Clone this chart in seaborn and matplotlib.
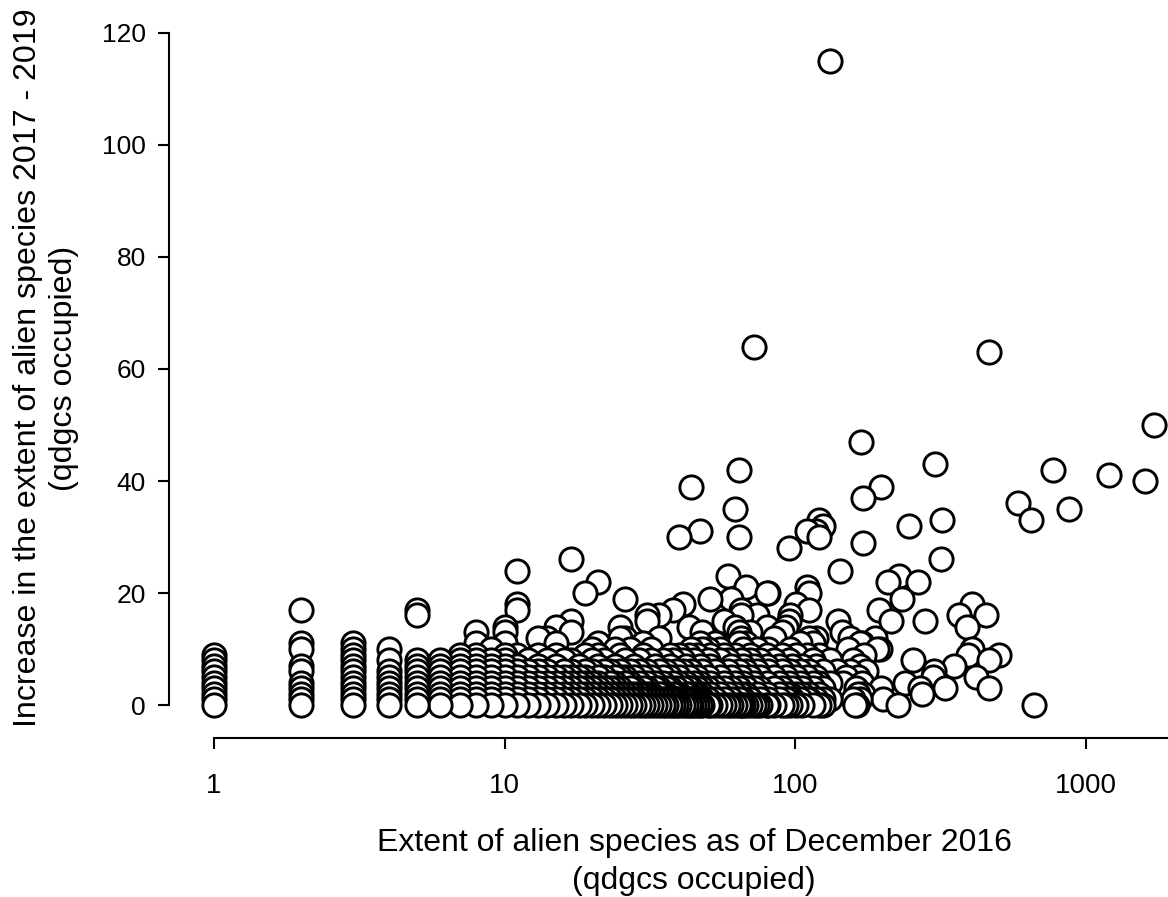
import pandas as pd
import matplotlib
matplotlib.use("Agg")
import matplotlib.pyplot as plt
import seaborn as sns

# Integer extents (qdgcs) with their stacks of observed increases
extent_a = [1, 2, 3, 4, 5, 6, 7, 8, 9, 10, 11, 12, 13, 14, 15, 16, 17, 18, 19, 20]
increase_a = [
    [0,1,2,3,4,5,6,7,8,9],
    [0,1,2,3,4,6,7,10,11,17],
    [0,1,2,3,4,5,6,7,8,9,10,11],
    [0,1,2,3,4,5,6,8,10],
    [0,1,2,3,4,5,6,7,8,16,17],
    [0,1,2,3,4,5,6,7,8],
    [0,1,2,3,4,5,6,7,8,9],
    [0,1,2,3,4,5,6,7,8,9,11,13],
    [0,1,2,3,4,5,6,7,8,10],
    [0,1,2,3,4,5,6,7,8,9,11,13,14],
    [0,1,2,3,4,5,6,7,9,17,18,24],
    [0,1,2,3,4,5,6,8],
    [0,1,2,3,4,5,6,7,9,12],
    [0,1,2,3,4,5,6,8,12],
    [0,1,2,3,4,5,7,9,11,14],
    [0,1,2,3,4,5,6,8],
    [0,1,2,3,4,5,6,8,13,15,26],
    [0,1,2,3,4,5,7],
    [0,1,2,3,4,5,6,9,20],
    [0,1,2,3,4,6,8,10],
]
extent_b = [21, 22, 23, 24, 25, 26, 27, 28, 29, 30, 31, 32, 33, 34, 35, 36, 37, 38, 39, 40,
            41, 42, 43, 44, 45, 46, 47, 48]
increase_b = [
    [0,1,2,3,4,5,7,9,11,22],
    [0,1,2,3,5,6,8],
    [0,1,2,3,4,6],
    [0,1,2,3,4,5,7,10],
    [0,1,2,3,5,6,9,12,14],
    [0,1,2,4,5,8,12,19],
    [0,1,2,3,4,6,10],
    [0,1,2,3,5,7],
    [0,1,2,4,6,8],
    [0,1,2,3,5,9,11],
    [0,1,2,3,4,6,15,16],
    [0,1,2,5,8,10],
    [0,1,3,4,7],
    [0,1,2,3,6,12,16],
    [0,1,2,4,5,8],
    [0,1,2,3,6],
    [0,1,3,5,7,9],
    [0,1,2,4,8,17],
    [0,1,2,3,6],
    [0,1,2,4,5,9,30],
    [0,1,3,6,8,18],
    [0,1,2,4,7],
    [0,1,2,3,5,9,14],
    [0,1,3,6,10,39],
    [0,1,2,4,8],
    [0,1,2,3,5,9],
    [0,1,4,7,11,31],
    [0,1,2,3,6,10,13],
]
extent_c = [50, 51, 53, 55, 57, 59, 60, 62, 64, 65, 66, 68, 70, 72, 74, 76, 80, 81, 85, 88,
            90, 93, 95, 96, 98, 101, 104, 106, 110, 112, 115, 118, 121, 125, 132]
increase_c = [
    [0,1,3,5,8,10],
    [0,2,4,7,9,19],
    [0,1,3,6,11],
    [0,2,5,8,10],
    [0,1,3,4,9,15],
    [0,2,6,8,23],
    [0,1,3,5,7,19],
    [0,2,4,9,14,35],
    [0,1,3,6,11,13,30,42],
    [0,2,5,8,12,16,17],
    [0,1,4,7,10],
    [0,2,3,6,11,21],
    [0,1,5,8,9,13],
    [0,3,4,7,64],
    [0,2,6,10,16],
    [0,1,3,5,8],
    [0,2,4,7,9,14,20],
    [0,1,6,10,20],
    [0,3,5,8,12],
    [1,2,4,7],
    [0,3,6,9,13],
    [0,1,2,5,14],
    [1,4,8,15,28],
    [0,2,6,10,16],
    [1,3,7],
    [0,2,5,9,18],
    [1,4,6,11],
    [0,2,3,7],
    [1,5,9,21,31],
    [1,2,6,12,17,20],
    [0,3,4,8,11],
    [1,5,7,12,31],
    [0,2,4,9,30,33],
    [0,1,3,6,32],
    [1,4,8,115],
]
# Sparse large-range species, read one by one
extent_d = [140, 141, 143, 145, 146, 150, 152, 155, 155, 158, 158, 161, 162, 163, 165, 165,
            167, 168, 168, 169, 170, 170, 171, 172, 172, 173, 175,
            188, 192, 194, 196, 198, 198, 201, 209, 214, 226, 228, 233, 239, 247, 255, 265,
            269, 274, 280, 298, 301, 303, 318, 321, 328, 352, 367, 391, 394, 407, 407, 420,
            454, 465, 465, 465, 504, 586, 649, 665, 773, 877, 1205, 1603, 1720]
increase_d = [6, 15, 24, 13, 4, 5, 10, 12, 6, 8, 1, 0, 3, 0, 2, 5,
              11, 7, 1, 47, 11, 4, 37, 29, 2, 9, 6,
              12, 10, 17, 10, 39, 3, 1, 22, 15, 0, 23, 19, 4, 32, 8, 22,
              3, 2, 15, 5, 6, 43, 26, 33, 3, 7, 16, 14, 9, 18, 10, 5,
              16, 3, 8, 63, 9, 36, 33, 0, 42, 35, 41, 40, 50]

x_values, y_values = [], []
for extents, stacks in [(extent_a, increase_a), (extent_b, increase_b), (extent_c, increase_c)]:
    for e, stack in zip(extents, stacks):
        x_values += [e] * len(stack)
        y_values += stack
x_values += extent_d
y_values += increase_d

df = pd.DataFrame({"extent": x_values, "increase": y_values})
df = df.sort_values(["increase", "extent"], ascending=[False, False])

sns.set_theme(style="white")
plt.rcParams["font.family"] = ["Liberation Sans", "DejaVu Sans"]

W, H = 1168, 897
fig = plt.figure(figsize=(W / 100, H / 100), dpi=100, facecolor="white")
left, right, top, bottom = 169, 1168, 33, 738
ax = fig.add_axes([left / W, 1 - bottom / H, (right - left) / W, (bottom - top) / H])

sns.scatterplot(data=df, x="extent", y="increase", ax=ax, s=280, marker="o",
                facecolor="white", edgecolor="black", linewidth=2.1,
                clip_on=False, legend=False, zorder=3)

ax.set_xscale("log")
ax.set_xlim(10 ** ((left - 214) / 290.5), 10 ** ((right - 214) / 290.5))
ax.set_ylim((705 - bottom) / 5.6, 120)

for side in ["top", "right"]:
    ax.spines[side].set_visible(False)
for side in ["left", "bottom"]:
    ax.spines[side].set_linewidth(1.5)
    ax.spines[side].set_color("black")
ax.spines["left"].set_bounds(0, 120)
ax.spines["bottom"].set_bounds(1, ax.get_xlim()[1])

ax.set_xticks([1, 10, 100, 1000], labels=["1", "10", "100", "1000"])
ax.minorticks_off()
ax.tick_params(axis="x", which="minor", bottom=False)
ax.set_yticks(range(0, 121, 20))
ax.tick_params(axis="both", direction="out", length=8, width=1.5, color="black",
               labelcolor="black", labelsize=19, bottom=True, left=True)
ax.tick_params(axis="x", pad=17, labelsize=20)
ax.tick_params(axis="y", pad=8.5)

ax.set_xlabel("")
ax.set_ylabel("")
fig.text(694 / W, 1 - 862 / H, "Extent of alien species as of December 2016\n(qdgcs occupied)",
         ha="center", va="center", fontsize=23, color="black", linespacing=1.38)
fig.text(46 / W, 1 - 368 / H, "Increase in the extent of alien species 2017 - 2019\n(qdgcs occupied)",
         ha="center", va="center", rotation=90, fontsize=23.1, color="black", linespacing=1.3,
         multialignment="center")

fig.savefig("out.png", dpi=100, facecolor="white")
